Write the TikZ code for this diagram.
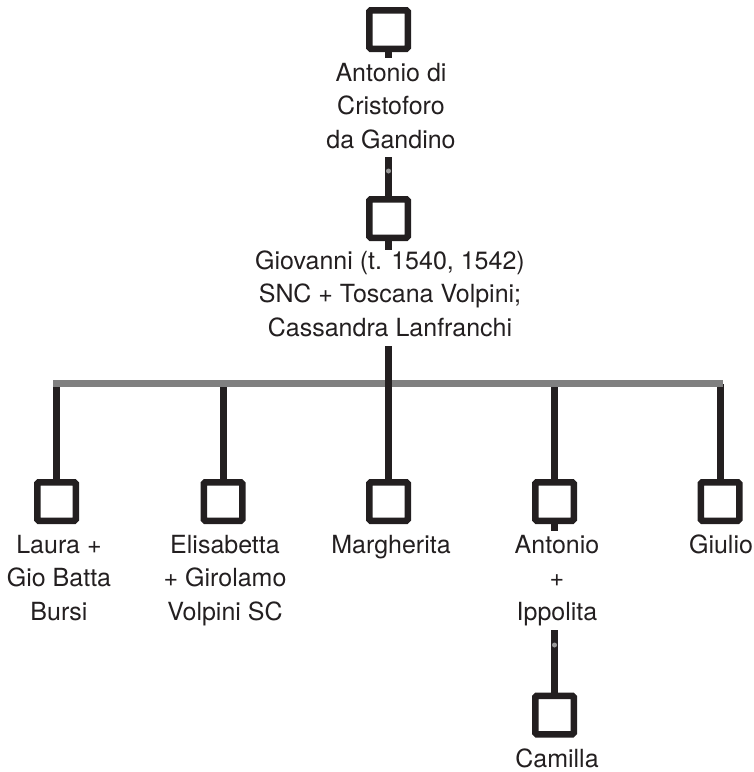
\documentclass[tikz,border=0pt]{standalone}
\usepackage{fontspec}
\setmainfont{TeX Gyre Heros}
\definecolor{ink}{HTML}{231F20}
\definecolor{sibgray}{HTML}{808080}
\definecolor{jointgray}{HTML}{999999}
\begin{document}
\begin{tikzpicture}[x=1pt,y=-1pt,
  person/.style={draw=ink, line width=6.5pt, rounded corners=1.5pt,
    minimum size=38.5pt, inner sep=0pt, fill=white},
  % the base anchor of a multi-line caption sits on its last line
  kintext/.style={align=center, text=ink, inner sep=0pt, anchor=base,
    font=\fontsize{25}{33.5}\selectfont},
  link/.style={draw=ink, line width=7pt},
  sibbar/.style={draw=sibgray, line width=7pt},
  joint/.style={circle, fill=jointgray, inner sep=0pt, minimum size=5pt}]
\useasboundingbox (0,0) rectangle (754,772);

% founder and his son
\node[person] (p0) at (388.5,29.5) {};
\node[kintext] (n0) at (391,148) {Antonio di\\Cristoforo\\da Gandino};
\node[person] (p1) at (388.5,218.5) {};
\node[kintext] (n1) at (390,336) {Giovanni (t. 1540, 1542)\\SNC + Toscana Volpini;\\Cassandra Lanfranchi};

% children of Giovanni
\node[person] (c1) at (56.5,501.5) {};
\node[person] (c2) at (223,501.5) {};
\node[person] (c3) at (388.5,501.5) {};
\node[person] (c4) at (554.5,501.5) {};
\node[person] (c5) at (720,501.5) {};
\node[kintext] (m1) at (59,620) {Laura +\\Gio Batta\\Bursi};
\node[kintext] (m2) at (225,620) {Elisabetta\\+ Girolamo\\Volpini SC};
\node[kintext] (m3) at (391,553) {Margherita};
\node[kintext] (m4) at (557,620) {Antonio\\+\\Ippolita};
\node[kintext] (m5) at (721,553) {Giulio};

% grandchild
\node[person] (g1) at (554.5,715) {};
\node[kintext] (h1) at (557,767) {Camilla};

% descent from the founder to Giovanni
\coordinate (s0) at (388.5,58);
\draw[link] (p0.south) -- (s0);
\coordinate (u1) at (388.5,157);
\draw[link] (u1) -- (p1.north);
\node[joint] (j1) at (388.5,171) {};
\coordinate (s1) at (388.5,250);
\draw[link] (p1.south) -- (s1);

% sibling bar
\coordinate (bl) at (53,383.5);
\coordinate (br) at (723,383.5);
\foreach \c in {c1,c2,c3,c4,c5}
  \draw[link] (\c.north) -- (\c.north |- bl);
\draw[sibbar] (bl) -- (br);
\coordinate (u2) at (388.5,346);
\coordinate (u2b) at (388.5,387);
\draw[link] (u2) -- (u2b);

% descent from Antonio to Camilla
\coordinate (s4) at (554.5,531);
\draw[link] (c4.south) -- (s4);
\coordinate (u4) at (554.5,630);
\draw[link] (u4) -- (g1.north);
\node[joint] (j4) at (554.5,645) {};
\end{tikzpicture}
\end{document}
